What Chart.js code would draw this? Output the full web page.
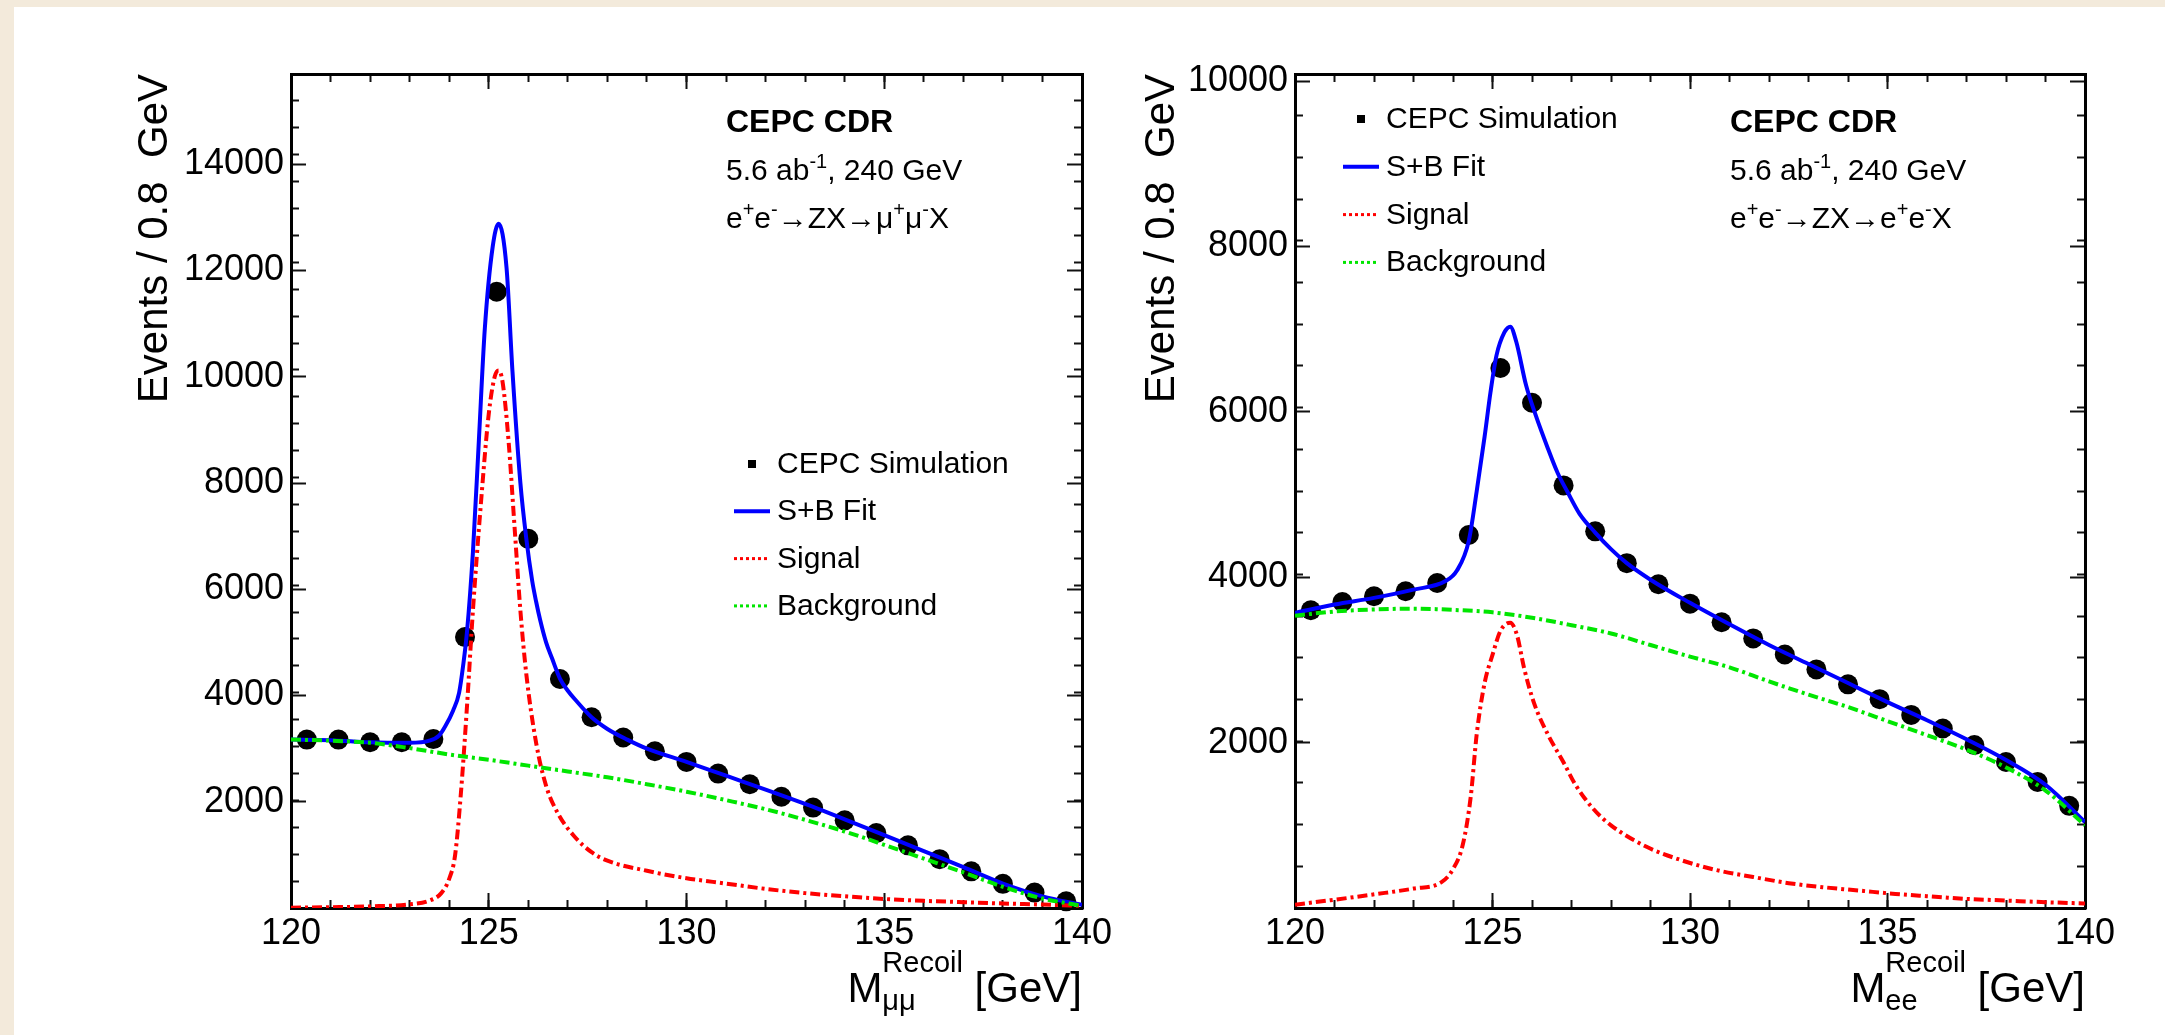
<!DOCTYPE html>
<html>
<head>
<meta charset="utf-8">
<title>Higgs recoil mass</title>
<script src="https://cdn.jsdelivr.net/npm/chart.js@4.4.1/dist/chart.umd.min.js"></script>
<style>
  html, body { margin: 0; padding: 0; }
  body { position: relative; width: 2165px; height: 1035px; overflow: hidden; background: #f3eadb; }
  #page { position: absolute; left: 14px; top: 7px; right: 0; bottom: 0; background: #fff; }
  canvas { position: absolute; left: 0; top: 0; }
</style>
</head>
<body>
<div id="page"></div>
<canvas id="muRecoil" width="2165" height="1035"></canvas>
<canvas id="eeRecoil" width="2165" height="1035"></canvas>
<script>
const FONT = '"Liberation Sans", Arial, Helvetica, sans-serif';
const BLUE = '#0000ff';
const RED = '#ff0000';
const GREEN = '#00e600';

// 0.8 GeV bins from 120 to 140 GeV
const binCentres = [120.4, 121.2, 122.0, 122.8, 123.6, 124.4, 125.2, 126.0, 126.8, 127.6, 128.4, 129.2, 130.0,
  130.8, 131.6, 132.4, 133.2, 134.0, 134.8, 135.6, 136.4, 137.2, 138.0, 138.8, 139.6];

// Z -> mu mu
const muEvents = [3170, 3170, 3120, 3120, 3180, 5100, 11600, 6950, 4310, 3590, 3210, 2950, 2750,
  2530, 2330, 2095, 1890, 1650, 1410, 1180, 920, 690, 455, 290, 125];
const muFitMass = [120, 121, 122, 123, 123.5, 123.75, 123.9, 124.1, 124.25, 124.35, 124.45, 124.6, 124.75, 124.9,
  125.1, 125.25, 125.45, 125.6, 125.8, 125.95, 126.1, 126.2, 126.3, 126.45, 126.6, 126.8, 127.0, 127.2, 127.6,
  128.0, 128.5, 129, 130, 131, 132, 133, 134, 135, 136, 137, 138, 139, 140];
const muFitEvents = [3170, 3160, 3120, 3110, 3150, 3250, 3420, 3720, 4050, 4550, 5200, 6700, 8800, 10900,
  12450, 12880, 12050, 10100, 8000, 6950, 6150, 5760, 5420, 5000, 4700, 4320, 4090, 3910, 3590,
  3370, 3170, 3000, 2750, 2490, 2230, 1960, 1670, 1370, 1070, 770, 460, 220, 60];
const muSigMass = [120, 121, 122, 123, 123.5, 123.8, 124.0, 124.15, 124.3, 124.45, 124.6, 124.8, 125.0, 125.15,
  125.25, 125.35, 125.5, 125.65, 125.8, 125.95, 126.2, 126.45, 126.75, 127.15, 127.6, 128.0, 129, 130, 131, 132,
  133, 134, 135, 136, 137, 138, 139, 140];
const muSigEvents = [5, 15, 30, 70, 140, 280, 550, 1000, 2200, 3800, 5600, 7600, 9300, 10000,
  10120, 9900, 8800, 7200, 5600, 4400, 3100, 2300, 1780, 1360, 1050, 890, 700, 560, 460, 360,
  280, 220, 170, 135, 110, 85, 65, 40];
const muBkgMass = [120, 121, 122, 123, 124, 125, 126, 127, 128, 129, 130, 131, 132, 133, 134, 135, 136, 137, 138, 139, 140];
const muBkgEvents = [3170, 3150, 3110, 3010, 2890, 2790, 2680, 2570, 2460, 2330, 2190, 2030, 1860, 1660, 1440,
  1190, 930, 670, 400, 180, 40];

// Z -> e e
const eeEvents = [3600, 3700, 3770, 3830, 3930, 4510, 6530, 6110, 5110, 4555, 4170, 3915, 3680,
  3455, 3260, 3065, 2885, 2705, 2525, 2335, 2170, 1970, 1765, 1525, 1235];
const eeFitMass = [120, 121, 122, 123, 123.8, 124.1, 124.4, 124.6, 124.8, 124.95, 125.1, 125.3, 125.45, 125.6,
  125.85, 126.1, 126.4, 126.65, 126.9, 127.2, 127.6, 128, 128.4, 129, 130, 131, 132, 133, 134, 135, 136, 137,
  138, 139, 140];
const eeFitEvents = [3570, 3670, 3750, 3850, 3950, 4080, 4440, 5040, 5700, 6240, 6680, 6960, 7030, 6850,
  6320, 5950, 5560, 5260, 5030, 4770, 4540, 4340, 4170, 3970, 3690, 3430, 3180, 2950, 2720, 2490, 2270, 2040,
  1790, 1490, 1040];
const eeSigMass = [120, 121, 122, 123, 123.7, 124.0, 124.25, 124.45, 124.6, 124.8, 125.0, 125.2, 125.45, 125.62,
  125.8, 126.05, 126.4, 126.8, 127.1, 127.55, 128, 128.9, 129.8, 130.7, 131.6, 132.5, 133.4, 134.3, 135.2,
  136.1, 137, 138, 139, 140];
const eeSigEvents = [40, 100, 165, 235, 310, 470, 770, 1350, 2100, 2720, 3060, 3350, 3450, 3300,
  2900, 2480, 2100, 1760, 1490, 1200, 1000, 740, 575, 455, 375, 300, 250, 210, 170,
  140, 110, 90, 70, 55];
const eeBkgMass = [120, 121, 122, 123, 124, 125, 126, 127, 128, 129, 130, 131, 132, 133, 134, 135, 136, 137, 138, 139, 140];
const eeBkgEvents = [3535, 3585, 3610, 3620, 3605, 3575, 3510, 3420, 3320, 3180, 3040, 2910, 2740, 2580, 2430,
  2260, 2090, 1915, 1700, 1420, 1000];

// labelled ticks
const massTicks = [120, 125, 130, 135, 140];
const muCountTicks = [2000, 4000, 6000, 8000, 10000, 12000, 14000];
const eeCountTicks = [2000, 4000, 6000, 8000, 10000];

const points = (xs, ys) => xs.map((x, i) => ({ x, y: ys[i] }));
const font = (size, bold) => (bold ? 'bold ' : '') + size + 'px ' + FONT;

// text runs with super/subscripts
function partWidth(ctx, p) {
  ctx.font = font(p.size, p.bold);
  if (p.sup !== undefined) return Math.max(ctx.measureText(p.sup).width, ctx.measureText(p.sub).width);
  return ctx.measureText(p.text).width;
}

function drawRun(ctx, parts, x, y, align) {
  if (align === 'right') x -= parts.reduce((w, p) => w + partWidth(ctx, p), 0);
  ctx.textAlign = 'left';
  ctx.textBaseline = 'alphabetic';
  parts.forEach(p => {
    const w = partWidth(ctx, p);
    if (p.sup !== undefined) {
      ctx.fillText(p.sup, x, y - p.up);
      ctx.fillText(p.sub, x, y + p.down);
    } else {
      ctx.fillText(p.text, x, y - (p.rise || 0));
    }
    x += w;
  });
}

const headerLines = lep => [
  { dx: 435, dy: 58, parts: [{ text: 'CEPC CDR', size: 32, bold: true }] },
  { dx: 435, dy: 106, parts: [{ text: '5.6 ab', size: 30 }, { text: '-1', size: 20, rise: 12 }, { text: ', 240 GeV', size: 30 }] },
  { dx: 435, dy: 154, parts: [
    { text: 'e', size: 30 }, { text: '+', size: 20, rise: 12 }, { text: 'e', size: 30 }, { text: '-', size: 20, rise: 12 },
    { text: '\u2192ZX\u2192' + lep, size: 30 }, { text: '+', size: 20, rise: 12 },
    { text: lep, size: 30 }, { text: '-', size: 20, rise: 12 }, { text: 'X', size: 30 }
  ] }
];

const massTitle = sub => [
  { text: 'M', size: 42 },
  { sup: 'Recoil', sub, size: 29, up: 30, down: 8 },
  { text: ' [GeV]', size: 42 }
];

const rootText = {
  id: 'rootText',
  afterDraw(chart, args, opts) {
    const { ctx, chartArea: a } = chart;
    ctx.save();
    ctx.fillStyle = '#000';
    opts.lines.forEach(l => drawRun(ctx, l.parts, a.left + l.dx, a.top + l.dy, 'left'));
    drawRun(ctx, opts.xTitle, a.right, a.bottom + 94, 'right');

    // legend entries come from the datasets, data first
    const lg = opts.legend;
    const x0 = a.left + lg.dx;
    chart.data.datasets.slice().reverse().forEach((ds, i) => {
      const base = a.top + lg.dy + i * lg.gap;
      const mid = base - 9;
      if (ds.showLine === false) {
        ctx.fillStyle = '#000';
        ctx.fillRect(x0 + 14, mid - 4, 8, 8);
      } else {
        ctx.beginPath();
        ctx.setLineDash(ds.borderDash ? [3, 3] : []);
        ctx.strokeStyle = ds.borderColor;
        ctx.lineWidth = ds.borderDash ? 3 : 4;
        ctx.moveTo(x0, mid);
        ctx.lineTo(x0 + 36, mid);
        ctx.stroke();
        ctx.setLineDash([]);
      }
      ctx.fillStyle = '#000';
      ctx.font = font(30);
      ctx.fillText(ds.label, x0 + 43, base);
    });
    ctx.restore();
  }
};

// ROOT style frame: ticks inside on all four sides, minor ticks on extra axes
function rootScales(o) {
  const flat = axis => { axis.paddingLeft = axis.paddingRight = axis.paddingTop = axis.paddingBottom = 0; };
  const wide = w => axis => { axis.width = w; flat(axis); };
  const tall = h => axis => { axis.height = h; flat(axis); };
  const marks = len => ({ drawOnChartArea: false, drawTicks: true, tickLength: -len, tickColor: '#111', tickWidth: 2 });
  const frame = { display: true, color: '#000', width: 3 };
  const bare = { display: false };
  const useTicks = list => axis => { axis.ticks = list.map(value => ({ value })); };
  const tickFont = { family: FONT, size: 36 };
  const mass = { type: 'linear', min: 120, max: 140 };
  const count = { type: 'linear', min: 0, max: o.yMax };
  const minorX = { display: false, stepSize: 1, includeBounds: false };
  const minorY = { display: false, stepSize: 500, includeBounds: false };
  return {
    x: { ...mass, position: 'bottom', grid: marks(15), border: frame,
      ticks: { font: tickFont, color: '#000', padding: 19, maxRotation: 0, autoSkip: false, callback: v => String(v) },
      afterBuildTicks: useTicks(massTicks), afterFit: tall(127) },
    xMinor: { ...mass, position: 'bottom', weight: -1, grid: marks(8), border: bare, ticks: minorX, afterFit: tall(0) },
    xTop: { ...mass, position: 'top', grid: marks(15), border: frame, ticks: { display: false },
      afterBuildTicks: useTicks(massTicks), afterFit: tall(0) },
    xTopMinor: { ...mass, position: 'top', weight: -1, grid: marks(8), border: bare, ticks: minorX, afterFit: tall(0) },
    y: { ...count, position: 'left', grid: marks(15), border: frame,
      ticks: { font: tickFont, color: '#000', padding: 22, autoSkip: false, callback: v => String(v) },
      title: { display: true, text: 'Events / 0.8  GeV', color: '#000', font: { family: FONT, size: 42 },
        align: 'end', padding: { top: o.titlePad, bottom: 0 } },
      afterBuildTicks: useTicks(o.yTicks), afterFit: wide(o.yWidth) },
    yMinor: { ...count, position: 'left', weight: -1, grid: marks(8), border: bare, ticks: minorY, afterFit: wide(0) },
    yRight: { ...count, position: 'right', grid: marks(15), border: frame, ticks: { display: false },
      afterBuildTicks: useTicks(o.yTicks), afterFit: wide(0) },
    yRightMinor: { ...count, position: 'right', weight: -1, grid: marks(8), border: bare, ticks: minorY, afterFit: wide(0) }
  };
}

function curve(label, xs, ys, color, dash) {
  return {
    label, data: points(xs, ys), showLine: true, borderColor: color, borderWidth: 4,
    borderDash: dash, pointRadius: 0, cubicInterpolationMode: 'monotone'
  };
}

function recoilChart(id, o) {
  return new Chart(document.getElementById(id), {
    type: 'scatter',
    data: {
      datasets: [
        curve('Background', o.bkgX, o.bkgY, GREEN, [10, 4, 3, 4]),
        curve('Signal', o.sigX, o.sigY, RED, [10, 4, 3, 4]),
        curve('S+B Fit', o.fitX, o.fitY, BLUE, undefined),
        { label: 'CEPC Simulation', data: points(binCentres, o.events), showLine: false,
          pointRadius: 10, pointBackgroundColor: '#000', pointBorderWidth: 0, clip: false }
      ]
    },
    options: {
      responsive: false,
      animation: false,
      events: [],
      layout: { padding: o.padding },
      plugins: {
        legend: { display: false },
        tooltip: { enabled: false },
        rootText: { lines: headerLines(o.lepton), xTitle: massTitle(o.sub), legend: o.legend }
      },
      scales: rootScales(o)
    },
    plugins: [rootText]
  });
}

recoilChart('muRecoil', {
  events: muEvents, fitX: muFitMass, fitY: muFitEvents, sigX: muSigMass, sigY: muSigEvents,
  bkgX: muBkgMass, bkgY: muBkgEvents, yMax: 15700, yTicks: muCountTicks, yWidth: 291, titlePad: 130,
  padding: { left: 0, top: 74, right: 1083, bottom: 0 },
  lepton: '\u03bc', sub: '\u03bc\u03bc',
  legend: { dx: 443, dy: 399, gap: 47.3 }
});

recoilChart('eeRecoil', {
  events: eeEvents, fitX: eeFitMass, fitY: eeFitEvents, sigX: eeSigMass, sigY: eeSigEvents,
  bkgX: eeBkgMass, bkgY: eeBkgEvents, yMax: 10085, yTicks: eeCountTicks, yWidth: 195, titlePad: 37,
  padding: { left: 1100, top: 74, right: 80, bottom: 0 },
  lepton: 'e', sub: 'ee',
  legend: { dx: 48, dy: 54, gap: 47.8 }
});
</script>
</body>
</html>
